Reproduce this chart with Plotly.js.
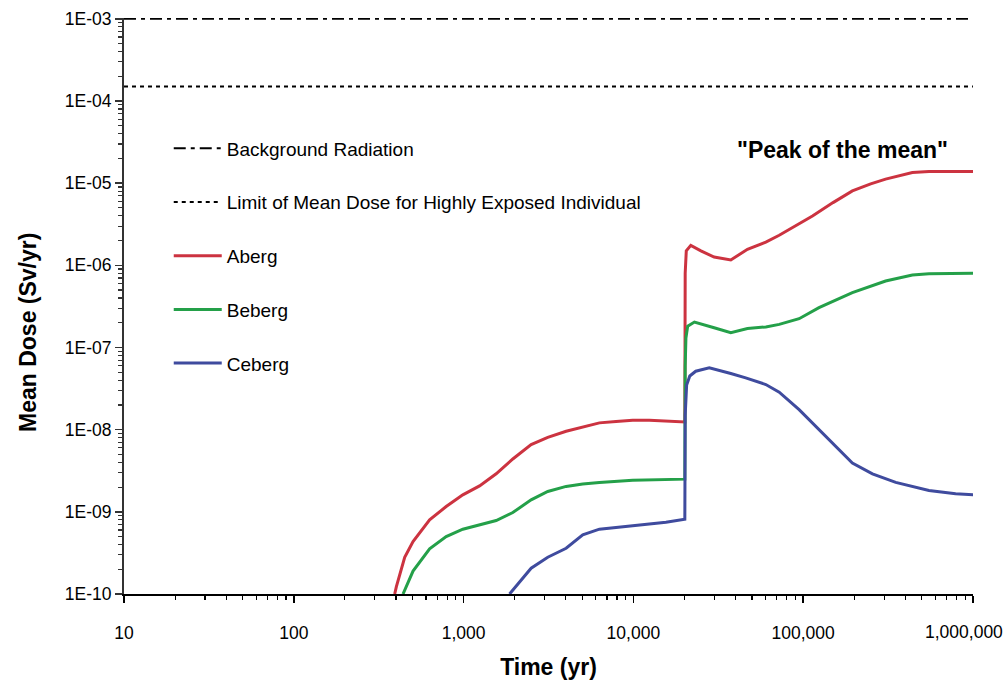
<!DOCTYPE html>
<html>
<head>
<meta charset="utf-8">
<script src="https://cdn.plot.ly/plotly-3.0.1.min.js"></script>
<style>html,body{margin:0;padding:0;background:#fff;}#chart{width:1008px;height:683px;}</style>
</head>
<body>
<div id="chart"></div>
<script>
// Reference levels
const bgX = [10, 1000000];
const bgY = [1e-3, 1e-3];
const limitX = [10, 1000000];
const limitY = [1.5e-4, 1.5e-4];

// Aberg
const abergT = [393, 402, 450, 504, 631, 790, 990, 1242, 1556, 1950, 2500, 3133, 4018, 5035, 6310, 7910, 9910, 12420, 15560, 19500, 20100, 20200, 20500, 21800, 25000, 29900, 37500, 47000, 60300, 72300, 94700, 113500, 150000, 195000, 250000, 306000, 440000, 551000, 700000, 865000, 1100000];
const abergD = [1e-10, 1.23e-10, 2.8e-10, 4.35e-10, 7.98e-10, 1.16e-9, 1.61e-9, 2.07e-9, 2.9e-9, 4.4e-9, 6.57e-9, 8.05e-9, 9.55e-9, 1.07e-8, 1.21e-8, 1.26e-8, 1.3e-8, 1.3e-8, 1.28e-8, 1.25e-8, 1.24e-8, 8e-7, 1.5e-6, 1.75e-6, 1.5e-6, 1.26e-6, 1.16e-6, 1.57e-6, 1.92e-6, 2.32e-6, 3.25e-6, 3.99e-6, 5.8e-6, 8.05e-6, 9.8e-6, 1.12e-5, 1.35e-5, 1.39e-5, 1.39e-5, 1.39e-5, 1.39e-5];

// Beberg
const bebergT = [440, 504, 631, 790, 990, 1242, 1556, 1950, 2500, 3133, 4018, 5035, 6310, 9910, 15560, 19500, 20100, 20200, 20400, 20900, 22900, 29900, 37500, 47000, 60300, 72300, 94700, 124000, 195000, 306000, 440000, 551000, 800000, 1100000];
const bebergD = [1e-10, 1.9e-10, 3.54e-10, 5.0e-10, 6.15e-10, 6.94e-10, 7.83e-10, 9.8e-10, 1.4e-9, 1.77e-9, 2.04e-9, 2.18e-9, 2.28e-9, 2.43e-9, 2.5e-9, 2.5e-9, 2.5e-9, 6e-8, 1.3e-7, 1.82e-7, 2.04e-7, 1.74e-7, 1.51e-7, 1.7e-7, 1.78e-7, 1.91e-7, 2.24e-7, 3.05e-7, 4.65e-7, 6.44e-7, 7.62e-7, 7.9e-7, 8.0e-7, 8.05e-7];

// Ceberg
const cebergT = [1866, 2500, 3133, 4018, 5035, 6310, 9910, 15560, 20100, 20200, 20600, 21500, 23300, 28000, 37500, 45900, 60300, 72300, 94700, 142000, 195000, 256000, 351000, 551000, 791000, 1100000];
const cebergD = [1e-10, 2.06e-10, 2.8e-10, 3.6e-10, 5.24e-10, 6.15e-10, 6.75e-10, 7.48e-10, 8.15e-10, 1.5e-8, 3.5e-8, 4.5e-8, 5.14e-8, 5.65e-8, 4.82e-8, 4.27e-8, 3.54e-8, 2.86e-8, 1.75e-8, 7.55e-9, 3.93e-9, 2.9e-9, 2.28e-9, 1.82e-9, 1.66e-9, 1.59e-9];

// Tick labels (the last x label is placed as an annotation so it stays inside the page, as in the reference)
const xTickVals = [10, 100, 1000, 10000, 100000, 1000000];
const xTickText = ['10', '100', '1,000', '10,000', '100,000', ''];
const xLastLabel = '1,000,000';
const yTickVals = [1e-10, 1e-9, 1e-8, 1e-7, 1e-6, 1e-5, 1e-4, 1e-3];
const yTickText = ['1E-10', '1E-09', '1E-08', '1E-07', '1E-06', '1E-05', '1E-04', '1E-03'];

const FONT = 'Liberation Sans, Arial, Helvetica, sans-serif';

const traces = [
  {x: bgX, y: bgY, name: 'Background Radiation', legendgroup: 'g1', mode: 'lines',
   line: {color: '#000', width: 2, dash: '12px,5px,4px,5px'}},
  {x: limitX, y: limitY, name: 'Limit of Mean Dose for Highly Exposed Individual', legendgroup: 'g2', mode: 'lines',
   line: {color: '#000', width: 2, dash: '4px,4px'}},
  {x: abergT, y: abergD, name: 'Aberg', legendgroup: 'g3', mode: 'lines',
   line: {color: '#cc3340', width: 3}},
  {x: bebergT, y: bebergD, name: 'Beberg', legendgroup: 'g4', mode: 'lines',
   line: {color: '#24a049', width: 3}},
  {x: cebergT, y: cebergD, name: 'Ceberg', legendgroup: 'g5', mode: 'lines',
   line: {color: '#3f4b9e', width: 3}}
];

const layout = {
  width: 1008, height: 683,
  margin: {l: 124, r: 35, t: 18, b: 89, pad: 0},
  paper_bgcolor: '#fff', plot_bgcolor: '#fff',
  font: {family: FONT, color: '#000', size: 17},
  showlegend: true,
  legend: {x: 0.0527, y: 0.8065, xanchor: 'left', yanchor: 'top', bgcolor: 'rgba(0,0,0,0)',
           font: {family: FONT, size: 19, color: '#000'}, tracegroupgap: 26, itemwidth: 48},
  xaxis: {
    type: 'log', range: [1, 6.0005], tickmode: 'array', tickvals: xTickVals, ticktext: xTickText,
    showgrid: false, zeroline: false, showline: true, linecolor: '#000', linewidth: 2,
    ticks: 'outside', ticklen: 7, tickwidth: 1.5, tickcolor: '#000', ticklabelstandoff: 15,
    tickfont: {family: FONT, size: 17.5, color: '#000'},
    minor: {dtick: 'D1', ticks: 'outside', ticklen: 4, tickwidth: 1.2, tickcolor: '#000', showgrid: false},
    title: {text: '<b>Time (yr)</b>', font: {family: FONT, size: 23, color: '#000'}, standoff: 17}
  },
  yaxis: {
    type: 'log', range: [-10, -2.99], tickmode: 'array', tickvals: yTickVals, ticktext: yTickText,
    showgrid: false, zeroline: false, showline: true, linecolor: '#333', linewidth: 2,
    ticks: 'outside', ticklen: 7, tickwidth: 1.5, tickcolor: '#333',
    tickfont: {family: FONT, size: 17.5, color: '#000'},
    minor: {dtick: 'D1', ticks: 'outside', ticklen: 4, tickwidth: 1.2, tickcolor: '#333', showgrid: false}
  },
  annotations: [
    {text: xLastLabel, xref: 'x', yref: 'paper', x: 6, y: -(632 - 594) / 576, xanchor: 'right', yanchor: 'middle',
     xshift: 32, showarrow: false, font: {family: FONT, size: 17.5, color: '#000'}},
    {text: '<b>"Peak of the mean"</b>', xref: 'paper', yref: 'paper', x: (842 - 124) / 849, y: (594 - 150) / 576,
     xanchor: 'center', yanchor: 'middle', showarrow: false, font: {family: FONT, size: 23, color: '#000'}},
    {text: '<b>Mean Dose (Sv/yr)</b>', xref: 'paper', yref: 'paper', x: -(124 - 28) / 849, y: (594 - 333) / 576,
     xanchor: 'center', yanchor: 'middle', textangle: -90, showarrow: false, font: {family: FONT, size: 23, color: '#000'}}
  ]
};

Plotly.newPlot('chart', traces, layout, {displayModeBar: false, staticPlot: true});
</script>
</body>
</html>
